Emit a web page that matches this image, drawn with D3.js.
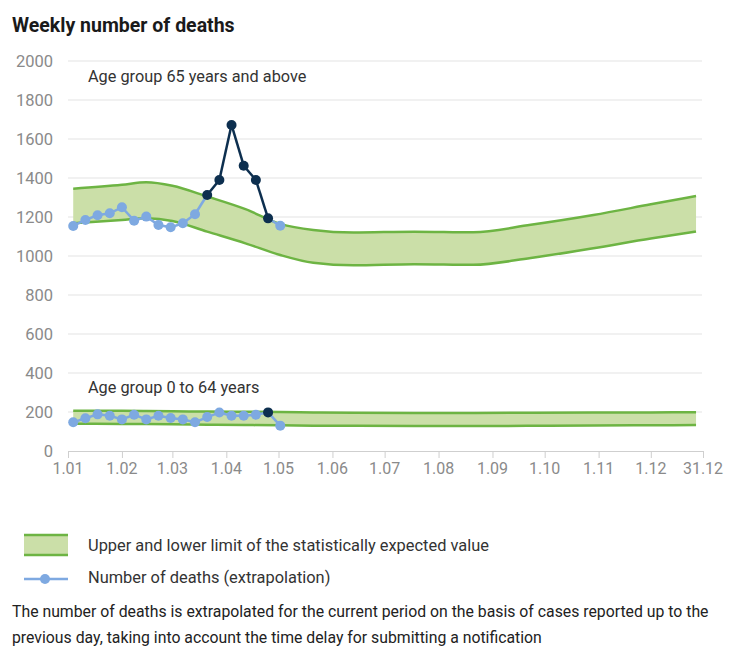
<!DOCTYPE html>
<html>
<head>
<meta charset="utf-8">
<script src="https://cdn.jsdelivr.net/npm/d3@7"></script>
<style>
  body { margin: 0; background: #fff; font-family: Roboto, "Noto Sans", sans-serif; }
</style>
</head>
<body>
<script>
// weekly points (2020)
const weekDates = ["2020-01-04","2020-01-11","2020-01-18","2020-01-25","2020-02-01","2020-02-08",
  "2020-02-15","2020-02-22","2020-02-29","2020-03-07","2020-03-14","2020-03-21","2020-03-28",
  "2020-04-04","2020-04-11","2020-04-18","2020-04-25","2020-05-02"];
const deathsOld = [1154,1185,1209,1219,1250,1181,1202,1159,1147,1168,1214,1313,1390,1672,1463,1390,1193,1155];
const deathsYoung = [147,168,188,181,162,186,162,181,169,162,147,174,197,181,181,186,198,130];
// excess mortality flag (dark markers)
const excessOld = [0,0,0,0,0,0,0,0,0,0,0,1,1,1,1,1,1,0];
const excessYoung = [0,0,0,0,0,0,0,0,0,0,0,0,0,0,0,0,1,0];

// expected value band
const bandDates = ["2020-01-04","2020-02-01","2020-02-15","2020-03-01","2020-03-21","2020-04-12",
  "2020-05-02","2020-05-21","2020-06-13","2020-07-18","2020-08-21","2020-09-23","2020-10-29",
  "2020-12-01","2020-12-27"];
const upperOld = [1345,1365,1378,1360,1305,1240,1165,1133,1120,1125,1122,1160,1210,1265,1308];
const lowerOld = [1168,1185,1193,1180,1125,1065,1005,965,952,958,955,990,1040,1090,1125];
const upperYoung = [207,206,205,204,202,201,200,198,196,195,195,196,197,198,199];
const lowerYoung = [140,139,138,137,135,133,132,130,129,128,128,129,131,132,133];

const yTicks = [0,200,400,600,800,1000,1200,1400,1600,1800,2000];
const xTickDates = ["2020-01-01","2020-02-01","2020-03-01","2020-04-01","2020-05-01","2020-06-01",
  "2020-07-01","2020-08-01","2020-09-01","2020-10-01","2020-11-01","2020-12-01","2020-12-31"];
const xTickLabels = ["1.01","1.02","1.03","1.04","1.05","1.06","1.07","1.08","1.09","1.10","1.11","1.12","31.12"];

const parse = d3.timeParse("%Y-%m-%d");
const W = 736, H = 648;
const light = "#7ea9e1", dark = "#0d2f4f", bandFill = "#cbdfa8", bandLine = "#6db443";

const svg = d3.select("body").append("svg").attr("width", W).attr("height", H);

const x = d3.scaleTime().domain([parse("2020-01-01"), parse("2020-12-31")]).range([68, 703]);
const y = d3.scaleLinear().domain([0, 2000]).range([451, 61]);

svg.append("text").attr("x", 12).attr("y", 32).text("Weekly number of deaths")
  .attr("font-size", 19.5).attr("font-weight", 700).attr("fill", "#1a1a1a");

// grid
svg.append("g").selectAll("line").data(yTicks.filter(d => d > 0)).join("line")
  .attr("x1", 68).attr("x2", 702).attr("y1", d => y(d)).attr("y2", d => y(d))
  .attr("stroke", "#e3e3e3").attr("stroke-width", 1);
svg.append("g").selectAll("text").data(yTicks).join("text")
  .attr("x", 53).attr("y", d => y(d) + 6).attr("text-anchor", "end")
  .attr("font-size", 16.5).attr("fill", "#8a8a8a").text(d => d);

// x axis
const xa = svg.append("g");
xa.append("line").attr("x1", 68).attr("x2", 703).attr("y1", 451.5).attr("y2", 451.5).attr("stroke", "#cfcfcf");
xa.selectAll("line.t").data(xTickDates).join("line").attr("class", "t")
  .attr("x1", d => x(parse(d)) + 0.5).attr("x2", d => x(parse(d)) + 0.5)
  .attr("y1", 451).attr("y2", 458).attr("stroke", "#cfcfcf");
xa.selectAll("text").data(xTickDates).join("text")
  .attr("x", d => x(parse(d))).attr("y", 474).attr("text-anchor", "middle")
  .attr("font-size", 16).attr("fill", "#8a8a8a").text((d, i) => xTickLabels[i]);

function band(up, lo) {
  const pts = bandDates.map((d, i) => ({ d: parse(d), u: up[i], l: lo[i] }));
  const area = d3.area().x(p => x(p.d)).y0(p => y(p.l)).y1(p => y(p.u)).curve(d3.curveMonotoneX);
  svg.append("path").datum(pts).attr("d", area).attr("fill", bandFill);
  [p => p.u, p => p.l].forEach(acc => {
    svg.append("path").datum(pts)
      .attr("d", d3.line().x(p => x(p.d)).y(p => y(acc(p))).curve(d3.curveMonotoneX))
      .attr("fill", "none").attr("stroke", bandLine).attr("stroke-width", 2.5);
  });
}
band(upperOld, lowerOld);
band(upperYoung, lowerYoung);

function series(vals, flags) {
  const pts = weekDates.map((d, i) => ({ d: parse(d), v: vals[i], f: flags[i] }));
  const segs = d3.pairs(pts);
  svg.append("g").selectAll("line").data(segs).join("line")
    .attr("x1", s => x(s[0].d)).attr("y1", s => y(s[0].v))
    .attr("x2", s => x(s[1].d)).attr("y2", s => y(s[1].v))
    .attr("stroke", s => (s[0].f && s[1].f) ? dark : light)
    .attr("stroke-width", 2.5);
  svg.append("g").selectAll("circle").data(pts).join("circle")
    .attr("cx", p => x(p.d)).attr("cy", p => y(p.v)).attr("r", 5)
    .attr("fill", p => p.f ? dark : light);
}
series(deathsOld, excessOld);
series(deathsYoung, excessYoung);

svg.append("text").attr("x", 88).attr("y", 82).attr("font-size", 16.3).attr("fill", "#333")
  .text("Age group 65 years and above");
svg.append("text").attr("x", 88).attr("y", 393).attr("font-size", 16.3).attr("fill", "#333")
  .text("Age group 0 to 64 years");

// legend
const lg = svg.append("g");
lg.append("rect").attr("x", 24).attr("y", 535).attr("width", 44).attr("height", 20).attr("fill", bandFill);
[535, 555].forEach(yy => lg.append("line").attr("x1", 24).attr("x2", 68).attr("y1", yy).attr("y2", yy)
  .attr("stroke", bandLine).attr("stroke-width", 2.5));
lg.append("text").attr("x", 88).attr("y", 551).attr("font-size", 16.4).attr("fill", "#333")
  .text("Upper and lower limit of the statistically expected value");
lg.append("line").attr("x1", 24).attr("x2", 68).attr("y1", 579).attr("y2", 579)
  .attr("stroke", light).attr("stroke-width", 2.5);
lg.append("circle").attr("cx", 45).attr("cy", 579).attr("r", 5).attr("fill", light);
lg.append("text").attr("x", 88).attr("y", 583).attr("font-size", 16.4).attr("fill", "#333")
  .text("Number of deaths (extrapolation)");

svg.append("text").attr("x", 12).attr("y", 617).attr("font-size", 15.8).attr("fill", "#222")
  .text("The number of deaths is extrapolated for the current period on the basis of cases reported up to the");
svg.append("text").attr("x", 12).attr("y", 643).attr("font-size", 15.8).attr("fill", "#222")
  .text("previous day, taking into account the time delay for submitting a notification");
</script>
</body>
</html>
